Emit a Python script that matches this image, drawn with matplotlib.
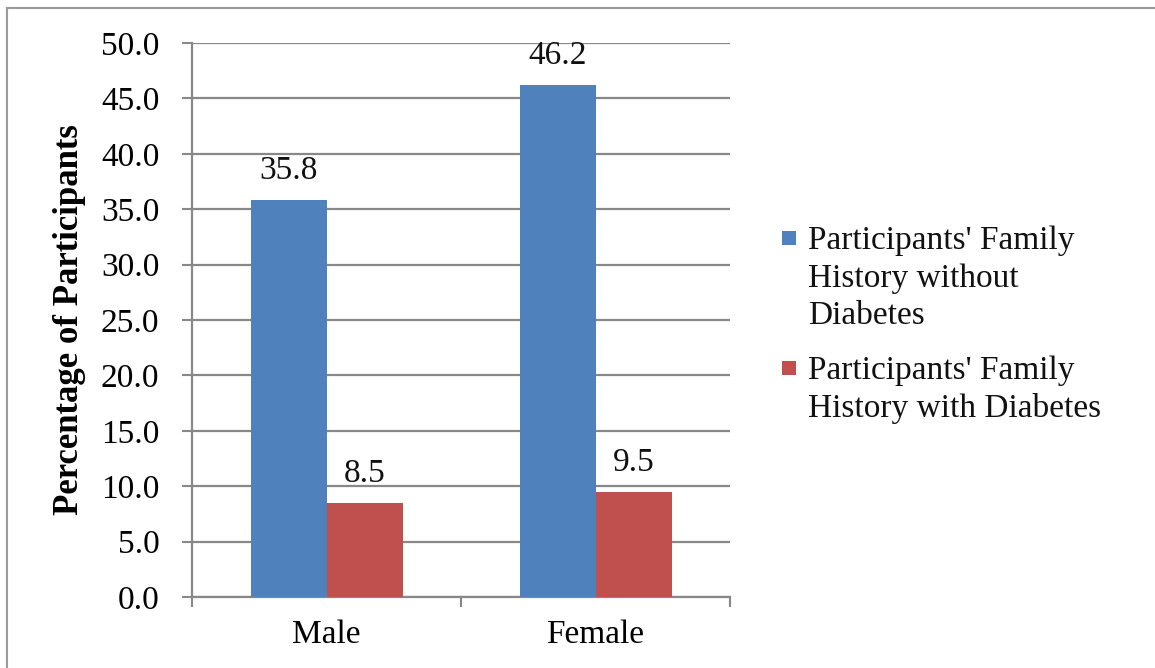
import matplotlib
matplotlib.use("Agg")
import matplotlib.pyplot as plt
import numpy as np
from matplotlib.lines import Line2D
from matplotlib.patches import Rectangle

categories = ["Male", "Female"]
series_names = ["Participants' Family\nHistory without\nDiabetes",
                "Participants' Family\nHistory with Diabetes"]
without_diabetes = [35.8, 46.2]
with_diabetes = [8.5, 9.5]
colors = ["#4F81BD", "#C0504D"]
yticks = [0, 5, 10, 15, 20, 25, 30, 35, 40, 45, 50]

plt.rcParams['font.family'] = ['Liberation Serif', 'DejaVu Serif']
FS = 24

W, H = 1155, 668
fig = plt.figure(figsize=(W / 100, H / 100), dpi=100)
ax = fig.add_axes([192 / W, 1 - 597 / H, (730 - 192) / W, (597 - 43) / H])

x = np.arange(len(categories))
bw = 76 / 269
b1 = ax.bar(x - bw / 2, without_diabetes, bw, color=colors[0], zorder=3)
b2 = ax.bar(x + bw / 2, with_diabetes, bw, color=colors[1], zorder=3)

for bars, vals in ((b1, without_diabetes), (b2, with_diabetes)):
    for r, v in zip(bars, vals):
        ax.annotate(f"{v:.1f}", (r.get_x() + r.get_width() / 2, v),
                    xytext=(0, 21), textcoords="offset pixels",
                    ha="center", va="baseline", fontsize=FS, color="#111111")

ax.set_xlim(-0.5, 1.5)
ax.set_ylim(0, 50)
ax.set_yticks(yticks)
ax.set_yticklabels([f"{t:.1f}" for t in yticks], fontsize=FS)
ax.set_xticks([-0.5, 0.5, 1.5])
ax.set_xticklabels([])
ax.set_xticks(x, minor=True)
ax.set_xticklabels(categories, minor=True, fontsize=FS)
ax.tick_params(axis="x", which="minor", length=0, pad=16)
ax.tick_params(axis="x", which="major", length=7.5, width=1.5, color="#888888")
ax.tick_params(axis="y", length=7.5, width=1.5, color="#888888", pad=16)

ax.grid(axis="y", color="#888888", linewidth=1.6, zorder=0)
for s in ("top", "right"):
    ax.spines[s].set_visible(False)
for s in ("left", "bottom"):
    ax.spines[s].set_color("#888888")
    ax.spines[s].set_linewidth(1.6)

ax.set_ylabel("Percentage of Participants", fontsize=25, fontweight="bold", va="center")
ax.yaxis.set_label_coords((70 - 192) / 538, 0.5)

# Excel-style legend: marker aligned with first line of wrapped label
marker_centers = [238, 368]
label_tops = [226, 356]
for name, c, ym, yt in zip(series_names, colors, marker_centers, label_tops):
    fig.add_artist(Rectangle((782 / W, 1 - (ym + 7) / H), 14 / W, 14 / H,
                             transform=fig.transFigure, facecolor=c,
                             edgecolor="none"))
    fig.text(808 / W, 1 - yt / H, name, fontsize=FS, ha="left", va="top",
             linespacing=1.29, color="#111111")

# figure border (top and left visible)
fig.add_artist(Line2D([7 / W, 7 / W], [0, 1 - 8 / H], transform=fig.transFigure,
                      color="#9a9a9a", linewidth=1.5))
fig.add_artist(Line2D([7 / W, 1], [1 - 8 / H, 1 - 8 / H], transform=fig.transFigure,
                      color="#9a9a9a", linewidth=1.5))

fig.savefig("out.png", dpi=100)
